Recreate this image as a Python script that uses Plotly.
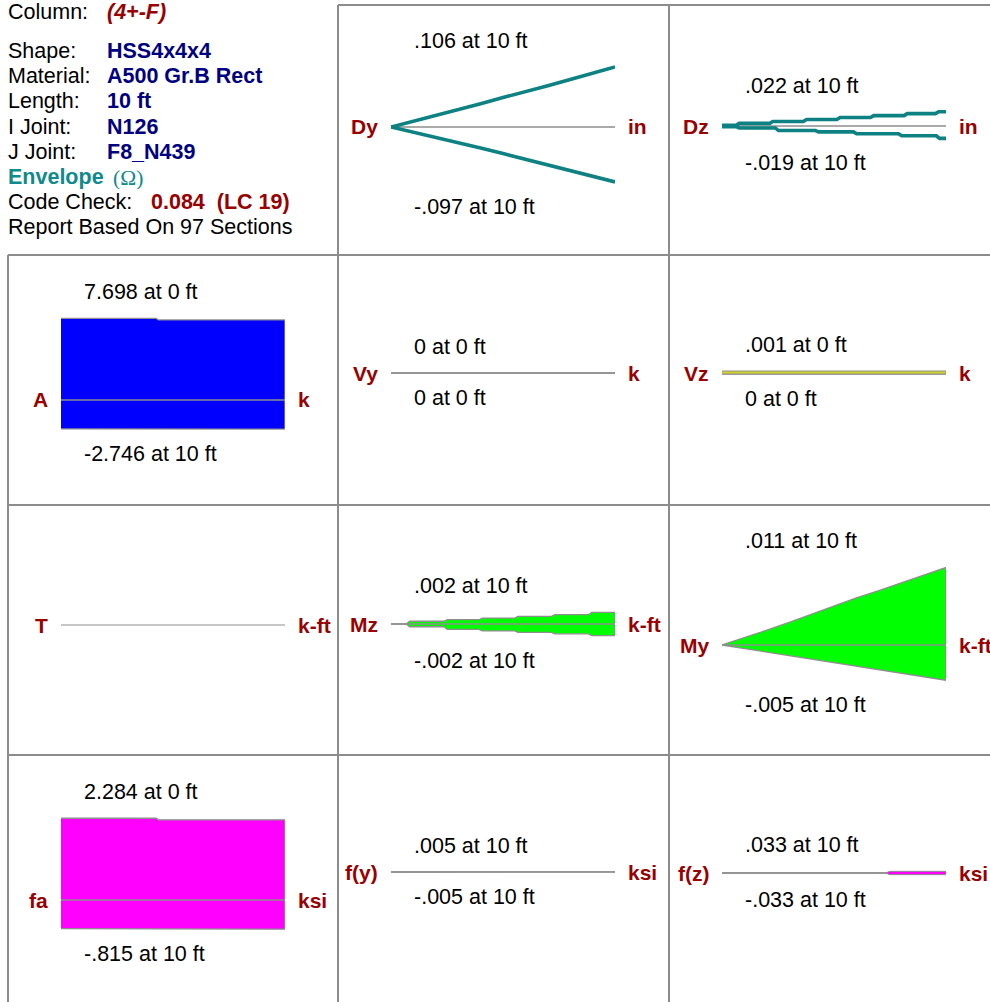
import plotly.graph_objects as go

# ---------------- member results (stations in ft along the member) ----------------
dy_x = [0, 1, 2, 3, 4, 5, 6, 7, 8, 9, 10]
dy_max = [0, .010, .020, .031, .041, .052, .062, .073, .084, .095, .106]
dy_min = [0, -.009, -.018, -.028, -.037, -.047, -.057, -.066, -.076, -.086, -.097]

dz_max_breaks = [0, 0.7, 2.2, 3.7, 5.2, 6.7, 8.2, 9.6, 10]
dz_max_levels = [.001, .004, .007, .010, .013, .016, .019, .022]
dz_min_breaks = [0, 0.7, 2.45, 4.24, 5.94, 7.95, 9.64, 10]
dz_min_levels = [-.001, -.003, -.007, -.009, -.012, -.015, -.019]

a_breaks = [0, 4.3, 10]
a_max_levels = [7.698, 7.55]
a_min_x = [0, 10]
a_min = [-2.73, -2.746]

vy_x = [0, 10]
vy_max = [0, 0]
vy_min = [0, 0]

vz_x = [0, 10]
vz_max = [.001, .001]
vz_min = [0, 0]

t_x = [0, 10]
t_val = [0, 0]

mz_breaks = [0, 0.76, 2.44, 4.0, 5.6, 7.24, 8.89, 10]
mz_max_levels = [0, .00047, .00074, .00103, .00133, .0016, .002]
mz_min_levels = [0, -.00047, -.00093, -.0012, -.00145, -.0017, -.002]

my_x = [0, 1, 2, 3, 4, 5, 6, 7, 8, 9, 10]
my_max = [0, .0010, .0021, .0032, .0044, .0056, .0067, .0077, .0088, .0099, .011]
my_min = [0, -.0005, -.0010, -.0015, -.0020, -.0025, -.0030, -.0035, -.0040, -.0045, -.005]

fa_breaks = [0, 4.3, 10]
fa_max_levels = [2.284, 2.24]
fa_min_x = [0, 10]
fa_min = [-.80, -.815]

fy_x = [0, 10]
fy_max = [0, .005]
fy_min = [0, -.005]

fz_breaks = [0, 7.4, 10]
fz_max_levels = [0, .033]
fz_min_levels = [0, -.033]

info_labels = ["Shape:", "Material:", "Length:", "I Joint:", "J Joint:"]
info_values = ["HSS4x4x4", "A500 Gr.B Rect", "10 ft", "N126", "F8_N439"]
member_name = "(4+-F)"
code_check = "0.084"
code_check_lc = "(LC 19)"
n_sections = 97

# ---------------- page geometry ----------------
W, H = 990, 1002
FONT = "Arial, Liberation Sans, sans-serif"
FS = 21.5
RED = "#990000"
NAVY = "#000080"
TEAL = "#0E8282"
GRID = "#8c8c8c"
OUTLINE = "#8e8e8e"

COL_LEFT = [8, 338, 669]          # table cell left edges
DIAG_OFF, DIAG_W = 53, 224         # diagram position inside a cell
HALF = 95                          # half height of each diagram axis, px


def stepped(breaks, levels, ramp=0.14):
    xs, ys = [breaks[0]], [levels[0]]
    for i in range(1, len(levels)):
        b = breaks[i]
        xs += [b - ramp / 2, b + ramp / 2]
        ys += [levels[i - 1], levels[i]]
    xs.append(breaks[-1])
    ys.append(levels[-1])
    return xs, ys


fig = go.Figure()
annotations = []
axis_no = [0]


def new_axes(col, base_px, px_per_unit):
    axis_no[0] += 1
    n = axis_no[0]
    sfx = "" if n == 1 else str(n)
    left = COL_LEFT[col] + DIAG_OFF
    fig.layout["xaxis" + sfx] = dict(
        domain=[left / W, (left + DIAG_W) / W], range=[0, 10],
        visible=False, fixedrange=True, anchor="y" + sfx)
    span = HALF / px_per_unit
    fig.layout["yaxis" + sfx] = dict(
        domain=[1 - (base_px + HALF) / H, 1 - (base_px - HALF) / H],
        range=[-span, span], visible=False, fixedrange=True, anchor="x" + sfx)
    return "x" + sfx, "y" + sfx


def side_labels(xr, yr, name, unit):
    annotations.append(dict(xref=xr + " domain", yref=yr, x=0, y=0, xshift=-11,
                            xanchor="right", yanchor="middle", showarrow=False,
                            text="<b>%s</b>" % name, font=dict(size=21, color=RED)))
    annotations.append(dict(xref=xr + " domain", yref=yr, x=1, y=0, xshift=11,
                            xanchor="left", yanchor="middle", showarrow=False,
                            text="<b>%s</b>" % unit, font=dict(size=21, color=RED)))


def extreme_labels(xr, yr, top_v, top_txt, bot_v, bot_txt):
    annotations.append(dict(xref=xr + " domain", yref=yr, x=0.095, y=top_v, yshift=26,
                            xanchor="left", yanchor="middle", showarrow=False,
                            text=top_txt, font=dict(size=FS, color="black")))
    annotations.append(dict(xref=xr + " domain", yref=yr, x=0.095, y=bot_v, yshift=-25,
                            xanchor="left", yanchor="middle", showarrow=False,
                            text=bot_txt, font=dict(size=FS, color="black")))


def fmt(v):
    s = ("%.3f" % v).rstrip("0").rstrip(".") if v != 0 else "0"
    if s.startswith("0."):
        s = s[1:]
    elif s.startswith("-0."):
        s = "-" + s[2:]
    return s


def baseline(xr, yr, width=1.5):
    fig.add_trace(go.Scatter(x=[0, 10], y=[0, 0], xaxis=xr, yaxis=yr, mode="lines",
                             line=dict(color=OUTLINE, width=width), hoverinfo="skip"))


def envelope(col, base_px, k, name, unit, ux, upper, lx, lower, fill,
             top_at, bot_at, axis_on_top=True, edge=1.3):
    xr, yr = new_axes(col, base_px, k)
    if not axis_on_top:
        baseline(xr, yr)
    px = list(ux) + list(lx)[::-1]
    py = list(upper) + list(lower)[::-1]
    fig.add_trace(go.Scatter(x=px, y=py, xaxis=xr, yaxis=yr, mode="lines",
                             fill="toself", fillcolor=fill,
                             line=dict(color=OUTLINE, width=edge), hoverinfo="skip"))
    if axis_on_top:
        baseline(xr, yr)
    side_labels(xr, yr, name, unit)
    top, bot = max(upper), min(lower)
    extreme_labels(xr, yr, top, "%s at %s ft" % (fmt(top), top_at),
                   bot, "%s at %s ft" % (fmt(bot), bot_at))


def deflection(col, base_px, k, name, unit, ux, upper, lx, lower, top_at, bot_at):
    xr, yr = new_axes(col, base_px, k)
    baseline(xr, yr)
    for xs, ys in ((ux, upper), (lx, lower)):
        fig.add_trace(go.Scatter(x=xs, y=ys, xaxis=xr, yaxis=yr, mode="lines",
                                 line=dict(color=TEAL, width=3.6), hoverinfo="skip"))
    side_labels(xr, yr, name, unit)
    top, bot = max(upper), min(lower)
    extreme_labels(xr, yr, top, "%s at %s ft" % (fmt(top), top_at),
                   bot, "%s at %s ft" % (fmt(bot), bot_at))


# ---- row 1: displacements ----
deflection(1, 127, 566, "Dy", "in", dy_x, dy_max, dy_x, dy_min, 10, 10)
dzx_u, dzy_u = stepped(dz_max_breaks, dz_max_levels)
dzx_l, dzy_l = stepped(dz_min_breaks, dz_min_levels)
deflection(2, 126, 650, "Dz", "in", dzx_u, dzy_u, dzx_l, dzy_l, 10, 10)

# ---- row 2: axial and shear ----
ax_u, ay_u = stepped(a_breaks, a_max_levels, ramp=0.1)
envelope(0, 400, 10.6, "A", "k", ax_u, ay_u, a_min_x, a_min, "#0000FF", 0, 10)
envelope(1, 373, 2000, "Vy", "k", vy_x, vy_max, vy_x, vy_min, "#FFFF00", 0, 0)
envelope(2, 374, 3000, "Vz", "k", vz_x, vz_max, vz_x, vz_min, "#D2D22C", 0, 0,
         axis_on_top=False, edge=1)

# ---- row 3: torsion and moments ----
xr, yr = new_axes(0, 625, 1)
fig.add_trace(go.Scatter(x=t_x, y=t_val, xaxis=xr, yaxis=yr, mode="lines",
                         line=dict(color=OUTLINE, width=1), hoverinfo="skip"))
side_labels(xr, yr, "T", "k-ft")

mzx_u, mzy_u = stepped(mz_breaks, mz_max_levels)
mzx_l, mzy_l = stepped(mz_breaks, mz_min_levels)
envelope(1, 624, 5800, "Mz", "k-ft", mzx_u, mzy_u, mzx_l, mzy_l, "#00FF00", 10, 10)
envelope(2, 645, 7050, "My", "k-ft", my_x, my_max, my_x, my_min, "#00FF00", 10, 10)

# ---- row 4: stresses ----
fx_u, fy_u = stepped(fa_breaks, fa_max_levels, ramp=0.1)
envelope(0, 900, 35.8, "fa", "ksi", fx_u, fy_u, fa_min_x, fa_min, "#FF00FF", 0, 10)
envelope(1, 872, 35.8, "f(y)", "ksi", fy_x, fy_max, fy_x, fy_min, "#FF00FF", 10, 10)
fzx_u, fzy_u = stepped(fz_breaks, fz_max_levels, ramp=0.2)
fzx_l, fzy_l = stepped(fz_breaks, fz_min_levels, ramp=0.2)
envelope(2, 873, 50, "f(z)", "ksi", fzx_u, fzy_u, fzx_l, fzy_l, "#FF00FF", 10, 10,
         axis_on_top=False, edge=1)

# ---- member summary block ----
def text_at(x_px, y_px, txt, color="black", family=FONT):
    annotations.append(dict(xref="paper", yref="paper", x=x_px / W, y=1 - y_px / H,
                            xanchor="left", yanchor="middle", showarrow=False,
                            text=txt, font=dict(size=FS, color=color, family=family)))


text_at(6, 12, "Column:")
text_at(105, 12, "<b><i>%s</i></b>" % member_name, RED)
for i, (lab, val) in enumerate(zip(info_labels, info_values)):
    y = 51 + 25.2 * i
    text_at(6, y, lab)
    text_at(105, y, "<b>%s</b>" % val, NAVY)
text_at(6, 177, "<b>Envelope</b>", "#108A8A")
text_at(111, 178, "(\u03a9)", "#108A8A", "Liberation Serif, Times New Roman, serif")
text_at(6, 202, "Code Check:")
text_at(149, 202, "<b>%s\u00a0\u00a0%s</b>" % (code_check, code_check_lc), RED)
text_at(6, 227, "Report Based On %d Sections" % n_sections)

# ---- table rules ----
shapes = []


def rule(x0, y0, x1, y1):
    shapes.append(dict(type="line", xref="paper", yref="paper",
                       x0=x0 / W, x1=x1 / W, y0=1 - y0 / H, y1=1 - y1 / H,
                       line=dict(color=GRID, width=2)))


rule(338, 5, 990, 5)
for yy in (255, 505, 755):
    rule(8, yy, 990, yy)
rule(8, 255, 8, 1002)
rule(338, 5, 338, 1002)
rule(669, 5, 669, 1002)

fig.update_layout(
    width=W, height=H, margin=dict(l=0, r=0, t=0, b=0),
    paper_bgcolor="white", plot_bgcolor="white",
    showlegend=False, font=dict(family=FONT, size=FS, color="black"),
    annotations=annotations, shapes=shapes,
)

fig.write_html("out.html", config={"displayModeBar": False})
